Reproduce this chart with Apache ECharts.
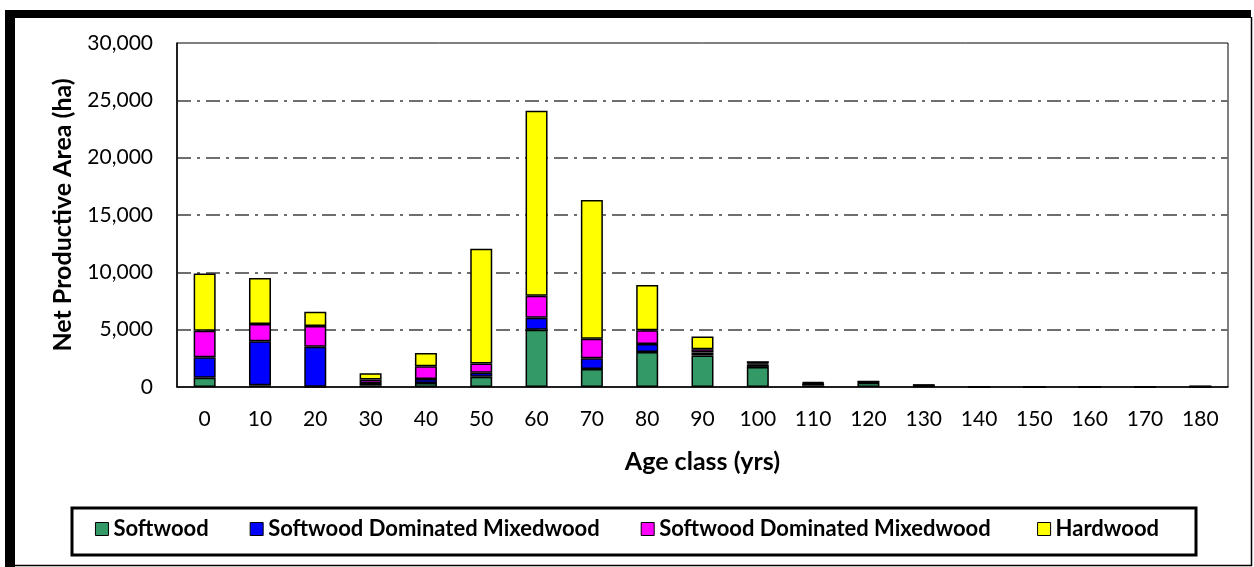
<!DOCTYPE html>
<html>
<head>
<meta charset="utf-8">
<script src="https://cdn.jsdelivr.net/npm/echarts@6/dist/echarts.min.js"></script>
<style>
  html, body { margin: 0; padding: 0; background: #fff; }
  #chart { width: 1254px; height: 567px; }
</style>
</head>
<body>
<div id="chart"></div>
<script>
// Age classes (years)
const ageClasses = ['0','10','20','30','40','50','60','70','80','90','100','110','120','130','140','150','160','170','180'];

// Net productive area (ha) by forest type and age class
const softwood      = [800, 150, 20, 150, 350, 900, 5000, 1570, 3050, 2750, 1750, 150, 380, 80, 0, 0, 0, 0, 50];
const swMixedwood   = [1800, 3850, 3500, 200, 350, 350, 1050, 930, 700, 250, 200, 150, 60, 60, 0, 0, 0, 0, 0];
const swMixedwood2  = [2300, 1500, 1800, 300, 1100, 800, 1900, 1700, 1200, 300, 100, 50, 20, 20, 0, 0, 0, 0, 0];
const hardwood      = [5000, 4000, 1250, 550, 1170, 10000, 16150, 12100, 3950, 1100, 200, 100, 40, 40, 0, 0, 0, 0, 0];

const seriesNames = ['Softwood', 'Softwood Dominated Mixedwood', 'Softwood Dominated Mixedwood ', 'Hardwood'];
const seriesColors = ['#339966', '#0000FF', '#FF00FF', '#FFFF00'];
const seriesData = [softwood, swMixedwood, swMixedwood2, hardwood];

const FONT = 'Lato, "Open Sans", sans-serif';

const chart = echarts.init(document.getElementById('chart'), null, { renderer: 'canvas' });

const series = seriesData.map((d, i) => ({
  name: seriesNames[i],
  type: 'bar',
  stack: 'area',
  data: d,
  barWidth: 22,
  itemStyle: { color: seriesColors[i], borderColor: '#000', borderWidth: 1.5 },
  emphasis: { disabled: true }
}));

chart.setOption({
  animation: false,
  backgroundColor: '#fff',
  grid: {
    left: 177, right: 26, top: 43, bottom: 180,
    show: true, borderColor: '#000', borderWidth: 1, backgroundColor: 'transparent'
  },
  legend: {
    bottom: 22,
    left: 'center',
    itemWidth: 13,
    itemHeight: 13,
    itemGap: 41,
    icon: 'rect',
    itemStyle: { borderColor: '#000', borderWidth: 1 },
    textStyle: { fontFamily: FONT, fontWeight: 'bold', fontSize: 22, color: '#000' },
    data: seriesNames
  },
  xAxis: {
    type: 'category',
    data: ageClasses,
    name: 'Age class (yrs)',
    nameLocation: 'middle',
    nameGap: 62,
    nameTextStyle: { fontFamily: FONT, fontWeight: 'bold', fontSize: 25, color: '#000' },
    axisLine: { lineStyle: { color: '#000', width: 1.5 } },
    axisTick: { show: false },
    axisLabel: { fontFamily: FONT, fontSize: 21, color: '#000', margin: 22 }
  },
  yAxis: {
    type: 'value',
    min: 0, max: 30000, interval: 5000,
    name: 'Net Productive Area (ha)',
    nameLocation: 'middle',
    nameGap: 102,
    nameTextStyle: { fontFamily: FONT, fontWeight: 'bold', fontSize: 25, color: '#000' },
    axisLine: { show: true, lineStyle: { color: '#000', width: 1.5 } },
    axisTick: { show: false },
    axisLabel: {
      fontFamily: FONT, fontSize: 21, color: '#000', margin: 24,
      formatter: v => v.toLocaleString('en-US')
    },
    splitLine: {
      show: true, showMinLine: false, showMaxLine: false,
      lineStyle: { color: '#6e6e6e', width: 2, type: [14, 6, 3, 6] }
    }
  },
  graphic: [
    // legend frame
    { type: 'rect', shape: { x: 72, y: 508, width: 1124, height: 47 }, style: { fill: 'none', stroke: '#000', lineWidth: 3 }, z: 1 },
    // outer frame: heavy top/left, thin right/bottom
    { type: 'rect', shape: { x: 5, y: 10, width: 10, height: 557 }, style: { fill: '#000' } },
    { type: 'rect', shape: { x: 5, y: 10, width: 1246, height: 8 }, style: { fill: '#000' } },
    { type: 'line', shape: { x1: 1251.5, y1: 17, x2: 1251.5, y2: 566 }, style: { stroke: '#000', lineWidth: 1.5 } },
    { type: 'line', shape: { x1: 15, y1: 565.5, x2: 1252, y2: 565.5 }, style: { stroke: '#000', lineWidth: 1.5 } }
  ],
  series
});
</script>
</body>
</html>
